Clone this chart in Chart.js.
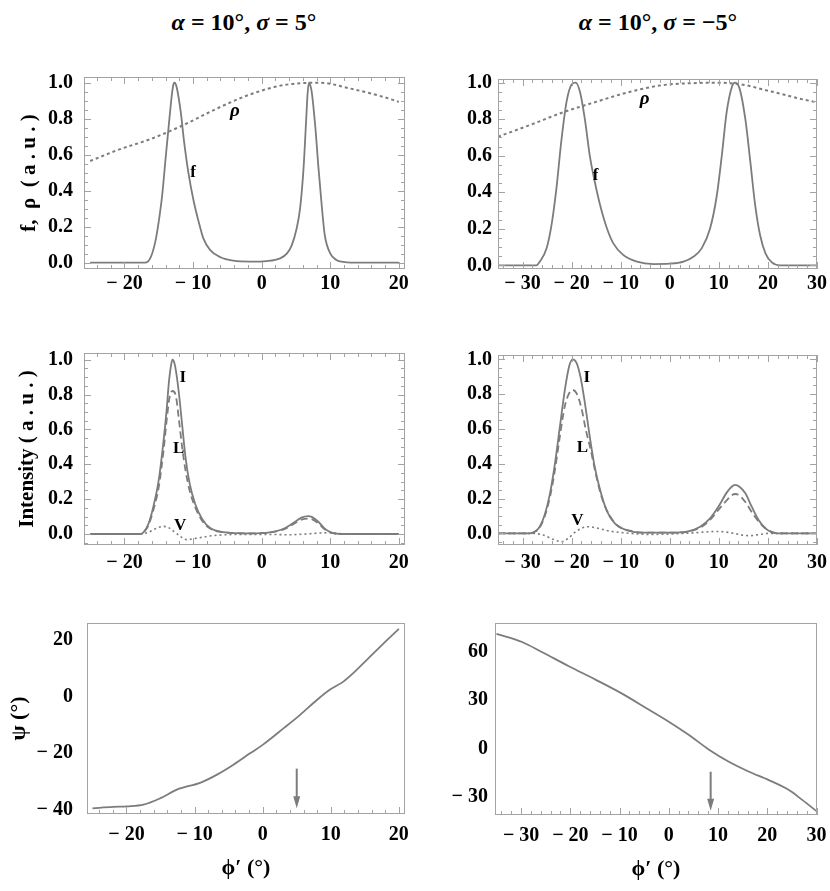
<!DOCTYPE html>
<html>
<head>
<meta charset="utf-8">
<script src="https://cdn.jsdelivr.net/npm/chart.js@4.4.1/dist/chart.umd.min.js"></script>
<style>
  html, body { margin:0; padding:0; background:#fff; width:830px; height:891px; overflow:hidden; position:relative; }
  canvas { position:absolute; }
  .ttl { position:absolute; top:9px; width:300px; line-height:30px; text-align:center;
         font:bold 24px 'Liberation Serif', 'Times New Roman', serif; color:#000; white-space:nowrap; }
</style>
</head>
<body>
<div class="ttl" style="left:94px"><i>α</i> = 10°, <i>σ</i> = 5°</div>
<div class="ttl" style="left:508px"><i>α</i> = 10°, <i>σ</i> = −5°</div>
<canvas id="tl"></canvas>
<canvas id="tr"></canvas>
<canvas id="ml"></canvas>
<canvas id="mr"></canvas>
<canvas id="bl"></canvas>
<canvas id="br"></canvas>
<script>
// tick values
const xTicksA = [-20, -10, 0, 10, 20];
const xTicksB = [-30, -20, -10, 0, 10, 20, 30];
const yTicksF = [0, 0.2, 0.4, 0.6, 0.8, 1.0];
const psiTicksA = [-40, -20, 0, 20];
const psiTicksB = [-30, 0, 30, 60];

// alpha=10, sigma=5  -- [phi', value]
const fA = [[-25,0],[-17,0],[-16.2,0.028],[-15.5,0.117],[-15,0.23],[-14.5,0.376],[-14,0.58],[-13.5,0.78],[-13.1,0.93],
  [-12.9,0.985],[-12.7,1],[-12.5,0.99],[-12.3,0.96],[-11.8,0.84],[-11.3,0.67],[-10.7,0.505],[-9.9,0.34],[-9.2,0.23],[-8.5,0.135],[-7.5,0.07],
  [-6,0.03],[-4.1,0.011],[-1.7,0.006],[0.7,0.009],[2.7,0.024],[3.7,0.052],[4.4,0.098],[5.1,0.19],[5.6,0.3],[6.1,0.52],
  [6.5,0.8],[6.7,0.94],[6.9,1],[7.1,0.985],[7.3,0.95],[7.8,0.765],[8.3,0.52],[8.8,0.3],[9.2,0.154],[10,0.052],[10.9,0.015],[11.9,0.004],[13,0],[20,0]];
const rhoA = [[-25,0.565],[-21,0.626],[-16,0.69],[-11.4,0.765],[-6.5,0.857],[-1.7,0.935],[3.2,0.987],[8.5,1],
  [12.9,0.968],[17.7,0.922],[20,0.894]];
const IA = [[-25,0],[-17.7,0],[-17.2,0.011],[-16.5,0.059],[-15.8,0.155],[-15,0.31],[-14.4,0.5],[-13.9,0.69],[-13.5,0.88],
  [-13.2,0.97],[-13,1],[-12.8,0.99],[-12.6,0.96],[-12.1,0.82],[-11.6,0.63],[-11.1,0.44],[-10.5,0.29],[-9.7,0.174],[-8.7,0.088],[-7.5,0.034],
  [-5.6,0.011],[-1.7,0.004],[1.2,0.01],[3.2,0.03],[4.6,0.063],[5.8,0.094],[6.8,0.103],[7.3,0.098],[8.3,0.069],
  [9.2,0.031],[10.2,0.008],[11.5,0],[20,0]];
const LA = [[-25,0],[-17.7,0],[-17.2,0.01],[-16.5,0.05],[-15.8,0.136],[-15,0.27],[-14.3,0.48],[-13.8,0.67],[-13.4,0.79],
  [-13,0.82],[-12.5,0.79],[-12.1,0.67],[-11.6,0.5],[-11.1,0.365],[-10.5,0.25],[-9.7,0.155],[-8.7,0.078],[-7.5,0.031],
  [-5.6,0.01],[-1.7,0.004],[1.2,0.009],[3.2,0.027],[4.6,0.056],[5.8,0.082],[6.8,0.088],[7.3,0.085],[8.3,0.06],
  [9.2,0.027],[10.2,0.007],[11.5,0],[20,0]];
const VA = [[-25,0],[-18,0],[-16.5,0.01],[-15.5,0.03],[-14.3,0.044],[-13.5,0.035],[-12.7,0.012],[-11.8,-0.015],
  [-11,-0.032],[-9.6,-0.025],[-7.7,-0.012],[-4.3,-0.003],[0,-0.002],[4,-0.004],[6.5,0],[8.5,0.006],[10,0.007],
  [11.5,0.002],[13,0],[20,0]];
const psiA = [[-25,-39.5],[-22,-39],[-19.9,-38.8],[-17.5,-38.2],[-15,-35.9],[-12.6,-32.9],[-9.1,-30.4],[-6.7,-27.6],
  [-4.3,-24.1],[-1.8,-20],[0,-17.1],[3.1,-11.2],[5.5,-6.5],[8,-1.2],[9.9,2.4],[11.9,5.3],[13.3,8.2],[15.3,12.9],
  [17.8,18.8],[20,23.8]];
const arrowA = [5, -25.5, -39.5];

// alpha=10, sigma=-5
const fB = [[-35,0],[-27.2,0],[-26.5,0.02],[-25.1,0.093],[-24.1,0.22],[-23.1,0.42],[-22.1,0.68],[-21,0.9],[-20,0.99],
  [-19.2,1],[-18.3,0.95],[-17.3,0.8],[-16.3,0.6],[-15.3,0.46],[-14.2,0.33],[-12.9,0.21],[-11.5,0.12],[-9.5,0.057],
  [-6.7,0.02],[-3.3,0.007],[0,0.009],[2.8,0.02],[4.8,0.047],[6.5,0.093],[8.2,0.2],[9.6,0.385],[10.6,0.6],[11.6,0.84],
  [12.7,0.98],[13.3,1],[14.2,0.97],[15.4,0.8],[16.4,0.57],[17.4,0.33],[18.4,0.166],[19.5,0.066],[20.8,0.016],[22.5,0],[30,0]];
const rhoB = [[-35,0.704],[-28.5,0.768],[-21.7,0.838],[-14.9,0.896],[-8.1,0.95],[-1.3,0.987],[5.5,0.998],[9,1],
  [12.3,0.997],[15.7,0.985],[19.1,0.962],[22.5,0.94],[25.9,0.916],[30,0.892]];
const IB = [[-35,0],[-28.5,0],[-27.5,0.01],[-26.5,0.038],[-25.5,0.105],[-24.4,0.23],[-23.4,0.4],[-22.4,0.61],[-21.4,0.82],
  [-20.5,0.96],[-19.8,1],[-19,0.98],[-18.2,0.9],[-17.3,0.75],[-16.3,0.556],[-15.3,0.383],[-14.2,0.25],[-12.9,0.134],
  [-11.2,0.057],[-8.8,0.019],[-5.4,0.004],[0,0.004],[3.5,0.01],[6.2,0.038],[8.2,0.086],[9.9,0.153],[11.6,0.234],
  [12.6,0.268],[13.3,0.278],[14.2,0.268],[15.4,0.23],[16.7,0.153],[18.1,0.077],[19.5,0.029],[20.8,0.006],[22,0],[30,0]];
const LB = [[-35,0],[-28.5,0],[-27.5,0.009],[-26.5,0.034],[-25.5,0.096],[-24.4,0.21],[-23.4,0.364],[-22.4,0.556],
  [-21.4,0.73],[-20.5,0.805],[-19.8,0.824],[-19,0.805],[-18,0.72],[-17.1,0.594],[-16.1,0.479],[-15.1,0.345],
  [-13.9,0.21],[-12.5,0.115],[-10.8,0.048],[-8.1,0.015],[-5.4,0.004],[0,0.004],[3.5,0.009],[6.2,0.033],[8.2,0.077],
  [9.9,0.135],[11.6,0.19],[12.6,0.218],[13.3,0.226],[14.2,0.218],[15.4,0.18],[17.1,0.105],[19.1,0.038],[20.8,0.008],
  [22,0],[30,0]];
const VB = [[-35,0],[-28,0],[-25.8,-0.01],[-23.8,-0.034],[-22.1,-0.048],[-20.7,-0.029],[-19.4,0.004],[-18,0.029],
  [-16.6,0.038],[-14.9,0.031],[-12.2,0.013],[-8.1,0],[-4,-0.006],[0,-0.004],[5.5,0.004],[9.6,0.011],[12.3,0.004],
  [15,-0.011],[16.4,-0.013],[18.4,-0.006],[20.1,0],[30,0]];
const psiB = [[-35,71.3],[-29.8,66.2],[-25.8,60],[-20.3,51.1],[-14.9,42.8],[-9.5,34.1],[-4.1,24.2],[0,16.6],[4.1,8.3],
  [8.1,-0.6],[12.2,-8.3],[16.3,-14.5],[20.3,-19.7],[24.4,-25.9],[27.1,-32],[30,-39]];
const arrowB = [8.5, -14.5, -38.7];

// curve labels [text, phi', value]
const labelsTL = [['ρ', -3.9, 0.84], ['f', -10.0, 0.50]];
const labelsTR = [['ρ', -5.1, 0.91], ['f', -15.1, 0.49]];
const labelsML = [['I', -11.5, 0.897], ['L', -12.1, 0.49], ['V', -11.9, 0.05]];
const labelsMR = [['I', -16.9, 0.897], ['L', -17.8, 0.494], ['V', -18.8, 0.072]];

const CURVE = '#7c7c7c';
const FRAME = '#a3a3a3';
const SERIF = "'Liberation Serif', 'Times New Roman', serif";
const TICKFONT = {family: SERIF, size: 20, weight: 'bold'};

const fmtX = v => v < 0 ? '\u2212 ' + (-v) : String(v);
const fmtF = v => v.toFixed(1);

function framePlugin(cfg) {
  return {
    id: 'frame',
    afterDraw(chart) {
      const ctx = chart.ctx;
      const {left, right, top, bottom} = chart.chartArea;
      const xs = chart.scales.x, ys = chart.scales.y;
      ctx.save();
      ctx.strokeStyle = FRAME;
      ctx.lineWidth = 1;
      ctx.strokeRect(left + 0.5, top + 0.5, right - left - 1, bottom - top - 1);
      const line = (x1, y1, x2, y2) => { ctx.beginPath(); ctx.moveTo(x1, y1); ctx.lineTo(x2, y2); ctx.stroke(); };
      // x ticks, step 2, major every 10
      for (let v = Math.ceil(xs.min / 2) * 2; v <= xs.max; v += 2) {
        const px = Math.round(xs.getPixelForValue(v)) + 0.5;
        const len = v % 10 === 0 ? 7 : 4;
        line(px, bottom, px, bottom - len);
        if (cfg.mirror) line(px, top, px, top + len);
      }
      // y ticks (only for f / intensity panels)
      if (cfg.yMinor) {
        for (let i = Math.ceil(ys.min / cfg.yMinor); i * cfg.yMinor <= ys.max + 1e-9; i++) {
          const v = i * cfg.yMinor;
          const py = Math.round(ys.getPixelForValue(v)) + 0.5;
          const len = i % 4 === 0 ? 7 : 4;
          line(left, py, left + len, py);
          line(right, py, right - len, py);
        }
      }
      // curve labels
      ctx.fillStyle = '#000';
      ctx.textAlign = 'center';
      ctx.textBaseline = 'middle';
      (cfg.labels || []).forEach(([t, x, y]) => {
        ctx.font = (t === 'ρ' ? 'italic bold 19px ' : 'bold 17px ') + SERIF;
        ctx.fillText(t, xs.getPixelForValue(x), ys.getPixelForValue(y));
      });
      // arrow
      if (cfg.arrow) {
        const [ax, y0, y1] = cfg.arrow;
        const px = xs.getPixelForValue(ax), p0 = ys.getPixelForValue(y0), p1 = ys.getPixelForValue(y1);
        ctx.strokeStyle = CURVE; ctx.fillStyle = CURVE; ctx.lineWidth = 2;
        line(px, p0, px, p1 - 10);
        ctx.beginPath(); ctx.moveTo(px - 3.5, p1 - 12); ctx.lineTo(px + 3.5, p1 - 12); ctx.lineTo(px, p1); ctx.closePath(); ctx.fill();
      }
      ctx.restore();
    }
  };
}

function panel(id, box, cfg) {
  const padT = 14, padR = 12;
  const cv = document.getElementById(id);
  const left = box.l - box.yW;
  cv.style.left = left + 'px';
  cv.style.top = (box.t - padT) + 'px';
  cv.width = box.r - left + padR;
  cv.height = box.b - box.t + padT + box.xH;

  const datasets = cfg.series.map(s => ({
    data: s.pts.map(p => ({x: p[0], y: p[1]})),
    borderColor: CURVE,
    borderWidth: s.w || 1.8,
    borderDash: s.dash || [],
    pointRadius: 0,
    cubicInterpolationMode: 'monotone',
    fill: false
  }));

  new Chart(cv, {
    type: 'line',
    data: {datasets},
    options: {
      responsive: false, animation: false, devicePixelRatio: 1,
      layout: {padding: {top: padT, right: padR, left: 0, bottom: 0}},
      plugins: {legend: {display: false}, tooltip: {enabled: false}},
      scales: {
        x: {
          type: 'linear', min: cfg.xr[0], max: cfg.xr[1],
          grid: {display: false, drawTicks: false}, border: {display: false},
          afterBuildTicks: s => { s.ticks = cfg.xt.map(v => ({value: v})); },
          afterFit: s => { s.height = box.xH; s.paddingLeft = 0; s.paddingRight = 0; },
          ticks: {autoSkip: false, maxRotation: 0, minRotation: 0, padding: box.xp, color: '#000', font: TICKFONT, callback: fmtX},
          title: cfg.xTitle ? {display: true, text: cfg.xTitle, color: '#000', padding: {top: 0, bottom: 0},
                               font: {family: SERIF, size: 22, weight: 'bold'}} : {display: false}
        },
        y: {
          type: 'linear', min: cfg.yr[0], max: cfg.yr[1],
          grid: {display: false, drawTicks: false}, border: {display: false},
          afterBuildTicks: s => { s.ticks = cfg.yt.map(v => ({value: v})); },
          afterFit: s => { s.width = box.yW; s.paddingTop = 0; s.paddingBottom = 0; },
          ticks: {autoSkip: false, padding: box.yp, color: '#000', font: TICKFONT, callback: cfg.yFmt || fmtX},
          title: cfg.yTitle ? {display: true, text: cfg.yTitle, color: '#000', padding: {top: cfg.yTitlePad, bottom: 0},
                               font: {family: SERIF, size: cfg.yTitleSize || 21, weight: 'bold'}} : {display: false}
        }
      }
    },
    plugins: [framePlugin(cfg)]
  });
}

panel('tl', {l: 84, r: 405, t: 77, b: 269, yW: 84, xH: 32, xp: 3, yp: 11}, {
  xr: [-25.9, 20.9], yr: [-0.035, 1.032], xt: xTicksA, yt: yTicksF, yFmt: fmtF, yMinor: 0.05, mirror: true,
  yTitle: 'f,  ρ  ( a . u . )', yTitlePad: 17, labels: labelsTL,
  series: [{pts: rhoA, dash: [3, 3], w: 2}, {pts: fA}]
});
panel('tr', {l: 498, r: 817, t: 79, b: 269, yW: 83, xH: 32, xp: 3, yp: 6}, {
  xr: [-35, 30], yr: [-0.02, 1.02], xt: xTicksB, yt: yTicksF, yFmt: fmtF, yMinor: 0.05, mirror: true,
  labels: labelsTR,
  series: [{pts: rhoB, dash: [3, 3], w: 2}, {pts: fB}]
});
panel('ml', {l: 84, r: 405, t: 353, b: 545, yW: 84, xH: 34, xp: 6, yp: 11}, {
  xr: [-25.9, 20.9], yr: [-0.063, 1.038], xt: xTicksA, yt: yTicksF, yFmt: fmtF, yMinor: 0.05, mirror: true,
  yTitle: 'Intensity ( a . u . )', yTitlePad: 15, labels: labelsML,
  series: [{pts: VA, dash: [2, 3], w: 1.6}, {pts: LA, dash: [7, 4], w: 1.8}, {pts: IA}]
});
panel('mr', {l: 498, r: 817, t: 355, b: 545, yW: 83, xH: 34, xp: 6, yp: 6}, {
  xr: [-35, 30], yr: [-0.067, 1.025], xt: xTicksB, yt: yTicksF, yFmt: fmtF, yMinor: 0.05, mirror: true,
  labels: labelsMR,
  series: [{pts: VB, dash: [2, 3], w: 1.6}, {pts: LB, dash: [7, 4], w: 1.8}, {pts: IB}]
});
panel('bl', {l: 87, r: 405, t: 623, b: 814, yW: 87, xH: 68, xp: 9, yp: 14}, {
  xr: [-25.8, 20.9], yr: [-41.5, 25.9], xt: xTicksA, yt: psiTicksA, mirror: false,
  yTitle: 'ψ (°)', yTitleSize: 22, yTitlePad: 6, xTitle: 'ϕ′ (°)', arrow: arrowA,
  series: [{pts: psiA}]
});
panel('br', {l: 495, r: 817, t: 623, b: 815, yW: 80, xH: 68, xp: 9, yp: 7}, {
  xr: [-35.3, 30.1], yr: [-41.4, 78], xt: xTicksB, yt: psiTicksB, mirror: false,
  xTitle: 'ϕ′ (°)', arrow: arrowB,
  series: [{pts: psiB}]
});
</script>
</body>
</html>
